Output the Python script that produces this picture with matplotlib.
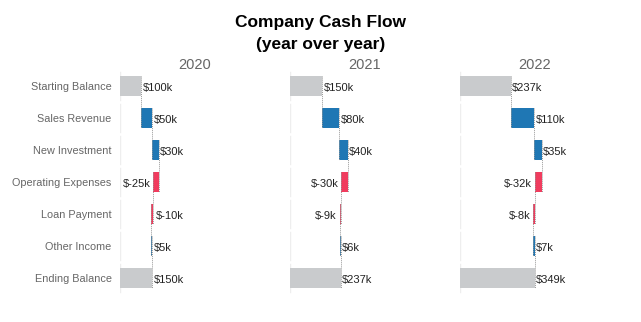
import numpy as np
import matplotlib.pyplot as plt

plt.rcParams['font.family'] = ['Liberation Sans', 'DejaVu Sans']

# ====== data ======
categories = ['Starting Balance', 'Sales Revenue', 'New Investment',
              'Operating Expenses', 'Loan Payment', 'Other Income', 'Ending Balance']
years = ['2020', '2021', '2022']
starting = [100, 150, 237]
changes = {
    '2020': [50, 30, -25, -10, 5],
    '2021': [80, 40, -30, -9, 6],
    '2022': [110, 35, -32, -8, 7],
}

C_POS = '#1f77b4'
C_NEG = '#f03c5e'
C_TOT = '#c9cbcd'

W, H = 641, 322
fig = plt.figure(figsize=(W / 100, H / 100), dpi=100)
fig.text(0.5, 1 - 23 / H, 'Company Cash Flow', ha='center', va='center',
         fontsize=12.5, fontweight='bold')
fig.text(0.5, 1 - 45 / H, '(year over year)', ha='center', va='center',
         fontsize=12.5, fontweight='bold')

n = len(categories)
y = np.arange(n)
bh = 0.6
x_left = [120, 290, 460]
pw = 150
ax_top, ax_bot = 70, 294

for k, yr in enumerate(years):
    ax = fig.add_axes([x_left[k] / W, 1 - ax_bot / H, pw / W, (ax_bot - ax_top) / H])
    ax.set_xlim(0, 700)
    ax.set_ylim(n - 0.5, -0.5)
    for s in ax.spines.values():
        s.set_visible(False)
    ax.set_xticks([])
    if k == 0:
        ax.set_yticks(y)
        ax.set_yticklabels(categories, fontsize=7.8, color='#666666')
        ax.tick_params(axis='y', length=0, pad=6)
    else:
        ax.set_yticks([])
    fig.text((x_left[k] + pw / 2) / W, 1 - 65 / H, yr, ha='center',
             va='center', fontsize=10.5, color='#666666')

    # faint baseline per row
    for i in y:
        ax.plot([0, 0], [i - 0.45, i + 0.45], color='#eeeeee', lw=1, zorder=0)

    steps = changes[yr]
    ends = list(np.cumsum([starting[k]] + steps))
    lefts = [0] + ends[:-1] + [0]
    widths = [starting[k]] + steps + [ends[-1]]
    colors = [C_TOT] + [C_POS if v >= 0 else C_NEG for v in steps] + [C_TOT]
    ax.barh(y, widths, left=lefts, height=bh, color=colors, zorder=2)

    # dotted connectors
    for i in range(n - 1):
        xe = ends[i]
        ax.plot([xe, xe], [i - bh / 2, i + 1 + bh / 2], ls=(0, (1, 1)),
                color='#999999', lw=0.7, zorder=3)

    # value labels (negative ones go left unless they would run off the panel)
    vals = [starting[k]] + steps + [ends[-1]]
    fig.canvas.draw()
    r = fig.canvas.get_renderer()
    ax_x0 = ax.get_window_extent(renderer=r).x0
    for i, v in enumerate(vals):
        txt = f'${v}k'
        right_end = lefts[i] + widths[i]
        if v < 0:
            t = ax.annotate(txt, (right_end, i + 0.05), xytext=(-2, 0),
                            textcoords='offset points', ha='right', va='center',
                            fontsize=8, color='#222222')
            bb = t.get_window_extent(renderer=r)
            if bb.x0 < ax_x0 + 1.5:
                t.remove()
                ax.annotate(txt, (lefts[i], i + 0.05), xytext=(2, 0),
                            textcoords='offset points', ha='left', va='center',
                            fontsize=8, color='#222222')
        else:
            ax.annotate(txt, (right_end, i + 0.05), xytext=(1, 0),
                        textcoords='offset points', ha='left', va='center',
                        fontsize=8, color='#222222')

fig.savefig('out.png', dpi=100)
